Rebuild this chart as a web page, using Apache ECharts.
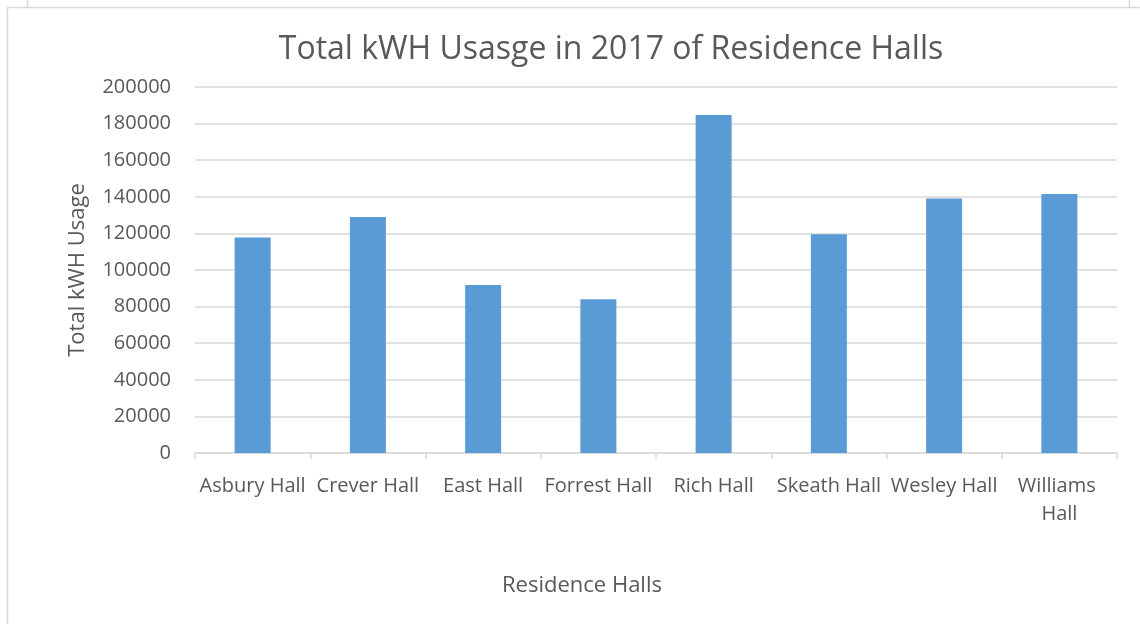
<!DOCTYPE html>
<html>
<head>
<meta charset="utf-8">
<script src="https://cdn.jsdelivr.net/npm/echarts@6/dist/echarts.min.js"></script>
<style>
    html, body {
        margin: 0;
        padding: 0;
        background: #fff;
    }

    #chart {
        width: 1140px;
        height: 624px;
    }
</style>
</head>
<body>
<div id="chart"></div>
<script>
const halls = [
    "Asbury Hall", "Crever Hall", "East Hall", "Forrest Hall",
    "Rich Hall", "Skeath Hall", "Wesley Hall", "Williams Hall",
];
const kwhUsage = [
    117800, 129000, 91800, 84000, 184700, 119600, 139100, 141500,
];

const textColor = "#595959";
const lineColor = "#d9d9d9";
const barColor = "#5b9bd5";
const font = "'Open Sans', 'Noto Sans', sans-serif";

const chart = echarts.init(document.getElementById("chart"));

chart.setOption({
    animation: false,
    textStyle: { fontFamily: font },
    title: {
        text: "Total kWH Usasge in 2017 of Residence Halls",
        left: 606,
        top: 29,
        textAlign: "center",
        textStyle: {
            color: textColor,
            fontSize: 32,
            fontWeight: "normal",
            fontFamily: font,
        },
    },
    // frame lines of the chart box
    graphic: [
        {
            type: "polyline",
            silent: true,
            shape: { points: [[7.5, 624], [7.5, 7.5], [1140, 7.5]] },
            style: { stroke: lineColor, lineWidth: 1.5, fill: null },
        },
        {
            type: "line",
            silent: true,
            shape: { x1: 27.5, y1: 0, x2: 27.5, y2: 7 },
            style: { stroke: lineColor, lineWidth: 1.5 },
        },
        {
            type: "line",
            silent: true,
            shape: { x1: 1129.5, y1: 0, x2: 1129.5, y2: 7 },
            style: { stroke: lineColor, lineWidth: 1.5 },
        },
    ],
    grid: {
        left: 195,
        right: 23,
        top: 87,
        bottom: 171,
        containLabel: false,
    },
    xAxis: {
        type: "category",
        data: halls,
        name: "Residence Halls",
        nameLocation: "middle",
        nameGap: 122,
        nameTextStyle: {
            color: textColor,
            fontSize: 22,
            fontFamily: font,
            padding: [0, 148, 0, 0], // title sits left of the plot centre
        },
        axisLine: {
            lineStyle: { color: lineColor, width: 1.5 },
        },
        axisTick: {
            show: true,
            length: 6,
            lineStyle: { color: lineColor, width: 1.5 },
        },
        axisLabel: {
            interval: 0,
            color: textColor,
            fontSize: 20,
            margin: 19,
            lineHeight: 28,
            width: 116,
            overflow: "break",
        },
    },
    yAxis: {
        type: "value",
        min: 0,
        max: 200000,
        interval: 20000,
        name: "Total kWH Usage",
        nameLocation: "middle",
        nameGap: 106,
        nameTextStyle: {
            color: textColor,
            fontSize: 22,
            fontFamily: font,
        },
        axisLine: { show: false },
        axisTick: { show: false },
        axisLabel: {
            color: textColor,
            fontSize: 20,
            margin: 24,
            formatter: (value) => String(value),
        },
        splitLine: {
            lineStyle: { color: lineColor, width: 1.5 },
        },
    },
    series: [
        {
            name: "Total kWH Usage",
            type: "bar",
            data: kwhUsage,
            barWidth: 36,
            itemStyle: { color: barColor },
        },
    ],
});
</script>
</body>
</html>
